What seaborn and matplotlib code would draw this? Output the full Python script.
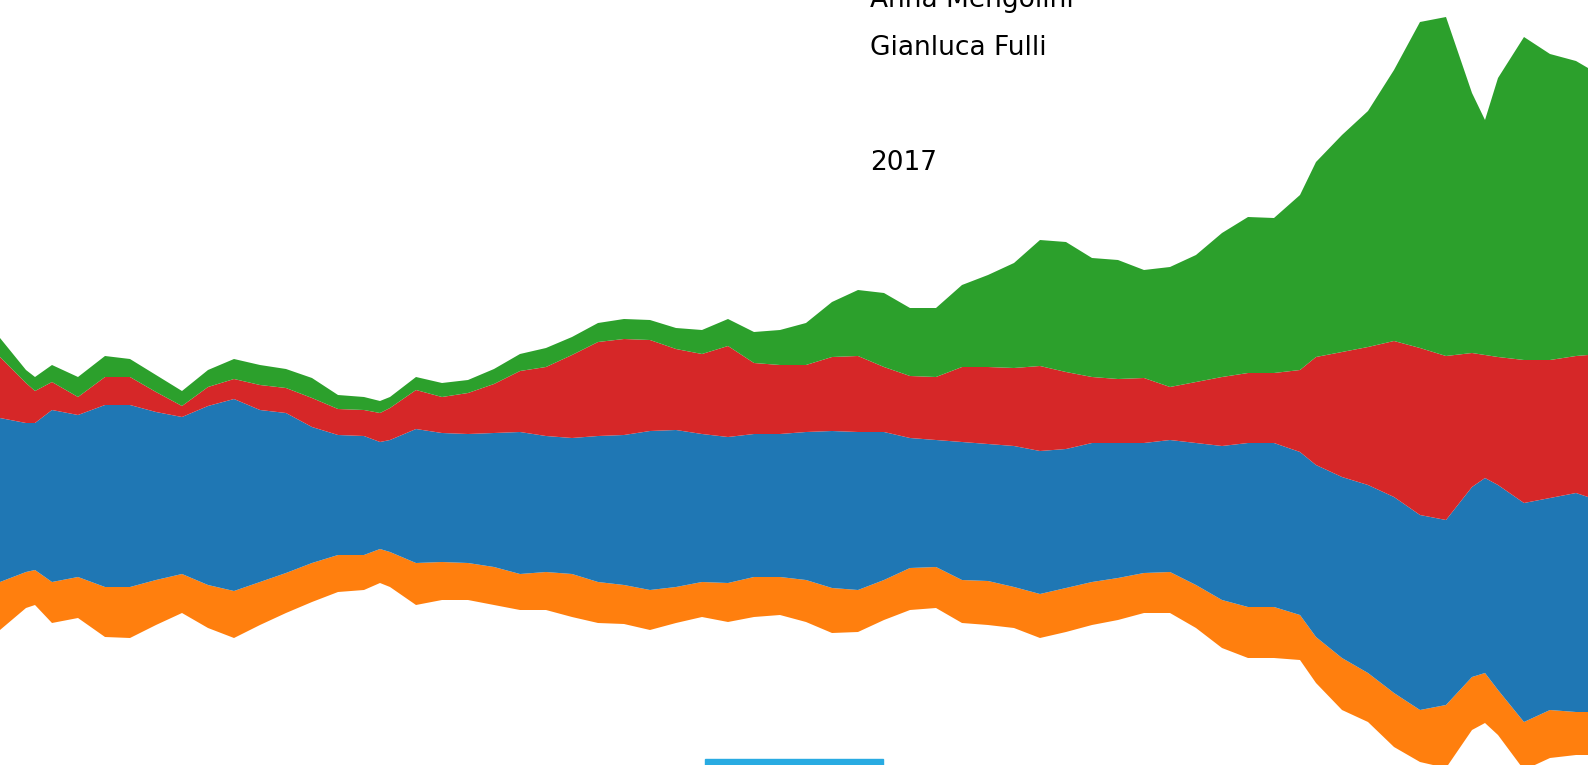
import numpy as np
import matplotlib
matplotlib.use("Agg")
import matplotlib.pyplot as plt
import seaborn as sns
from matplotlib.patches import Rectangle

# -------------------------------
# DATI
# -------------------------------
t = [0, 26, 35, 52, 78, 105, 130, 156, 182, 208, 234, 260, 286, 312, 338, 364,
     380, 390, 416, 442, 468, 494, 520, 546, 572, 598, 624, 650, 676, 702, 728,
     754, 780, 806, 832, 858, 884, 910, 936, 962, 988, 1014, 1040, 1066, 1092,
     1118, 1144, 1170, 1196, 1222, 1248, 1274, 1300, 1316, 1342, 1368, 1394,
     1420, 1446, 1472, 1485, 1498, 1524, 1550, 1576, 1588]

# baseline dello streamgraph
offset = [135, 157, 160, 142, 147, 128, 127, 140, 152, 137, 127, 140, 152, 163,
          173, 175, 182, 178, 160, 165, 165, 160, 155, 155, 148, 142, 141, 135,
          142, 148, 143, 148, 150, 143, 132, 133, 145, 155, 157, 142, 140, 137,
          127, 133, 140, 145, 152, 152, 137, 117, 107, 107, 105, 82, 55, 43, 18,
          3, -3, 35, 42, 30, -5, 7, 10, 10]

orange = [48, 36, 35, 41, 41, 50, 51, 45, 39, 43, 47, 43, 40, 39, 37, 35, 34, 35,
          42, 38, 37, 38, 36, 38, 43, 41, 39, 40, 36, 35, 39, 40, 38, 42, 45, 42,
          40, 42, 41, 43, 44, 41, 44, 44, 43, 42, 40, 41, 43, 48, 51, 51, 45, 46,
          52, 49, 54, 52, 63, 53, 50, 45, 48, 48, 43, 43]

blue = [164, 149, 147, 172, 162, 182, 182, 168, 157, 179, 192, 172, 160, 136,
        120, 119, 107, 112, 134, 129, 129, 134, 142, 136, 136, 146, 150, 159, 157,
        148, 146, 143, 143, 148, 157, 158, 148, 130, 127, 138, 137, 141, 143, 139,
        139, 135, 130, 132, 142, 154, 164, 164, 163, 172, 181, 188, 196, 195, 185,
        190, 195, 205, 219, 212, 219, 215]

red = [61, 40, 32, 28, 18, 28, 28, 20, 11, 19, 20, 25, 25, 29, 26, 26, 29, 32, 39,
       36, 41, 49, 61, 69, 83, 94, 96, 91, 81, 80, 91, 71, 69, 67, 74, 76, 65, 62,
       63, 75, 77, 78, 85, 77, 66, 64, 65, 53, 61, 69, 70, 70, 82, 108, 125, 138,
       156, 167, 164, 134, 123, 128, 143, 138, 137, 142]

green = [19, 13, 14, 17, 20, 21, 18, 17, 15, 17, 20, 20, 19, 20, 14, 13, 12, 11,
         13, 14, 13, 15, 17, 19, 18, 19, 20, 20, 21, 24, 27, 31, 35, 42, 55, 66,
         74, 68, 69, 82, 92, 105, 126, 130, 119, 119, 108, 120, 127, 144, 156,
         155, 175, 195, 217, 236, 271, 326, 339, 260, 235, 279, 323, 306, 295, 287]

colori = ["#ff7f0e", "#1f77b4", "#d62728", "#2ca02c"]

# -------------------------------
# GRAFICO
# -------------------------------
sns.set_style("white")
plt.rcParams['font.family'] = ['DejaVu Sans']

fig = plt.figure(figsize=(15.88, 7.65), dpi=100)
ax = fig.add_axes([0, 0, 1, 1])

ax.stackplot(t, offset, orange, blue, red, green,
             colors=["none"] + colori, linewidth=0)

ax.set_xlim(0, 1588)
ax.set_ylim(0, 765)
ax.axis("off")

# testi in alto
fig.text(870 / 1588, 1 - 7 / 765, "Anna Mengolini", fontsize=19,
         color="black", va="baseline")
fig.text(870 / 1588, 1 - 55 / 765, "Gianluca Fulli", fontsize=19,
         color="black", va="baseline")
fig.text(870 / 1588, 1 - 170 / 765, "2017", fontsize=19,
         color="black", va="baseline")

# barra azzurra in basso
fig.patches.append(Rectangle((705 / 1588, 0), 178 / 1588, 6 / 765,
                             transform=fig.transFigure, color="#29abe2"))

fig.savefig("out.png", dpi=100)
